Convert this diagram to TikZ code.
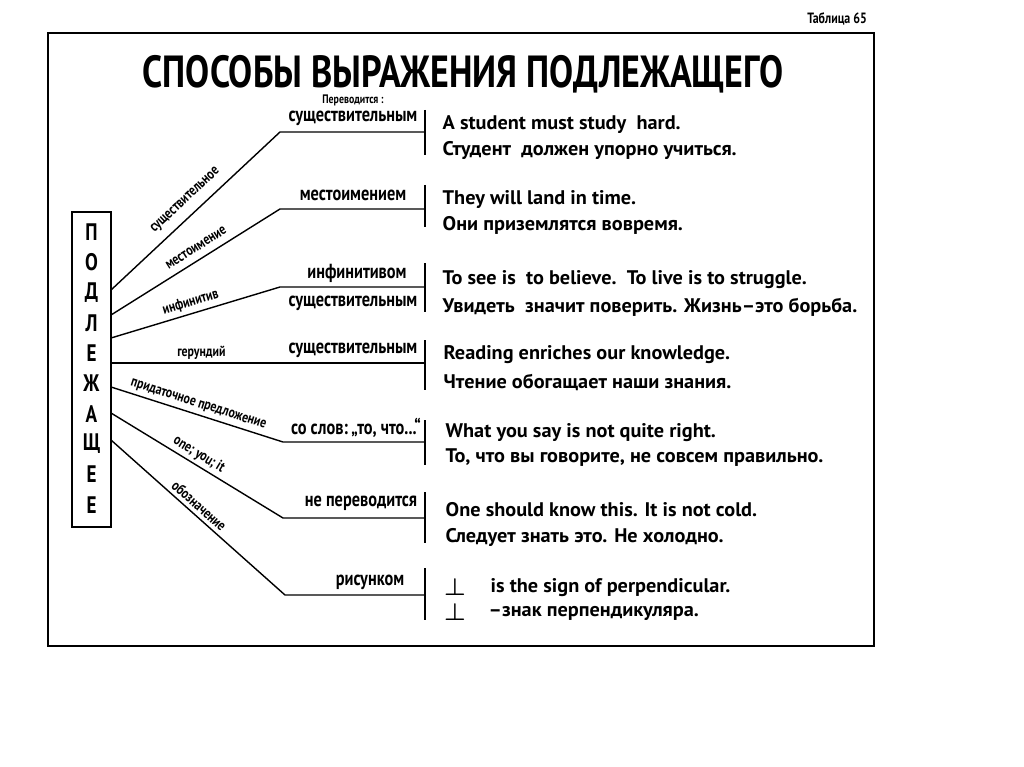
\documentclass[tikz,border=0pt]{standalone}
\usepackage{fontspec}
\setmainfont{PT Sans}[FakeStretch=0.8]
\newfontfamily\sentfont{PT Sans}[FakeStretch=1.03]
\usetikzlibrary{positioning}

\begin{document}
\begin{tikzpicture}[x=0.025cm, y=-0.025cm, line width=1pt,
    lbl/.style={font=\bfseries\fontsize{14.5}{16}\selectfont, inner sep=0pt},
    way/.style={font=\bfseries\fontsize{10.5}{11}\selectfont, sloped, above, inner xsep=0pt},
    sent/.style={font=\sentfont\bfseries\fontsize{14}{16}\selectfont, anchor=west, inner sep=0pt},
    bar/.style={line width=1.5pt}]

	\useasboundingbox (0,0) rectangle (1024,767);

	% frame and title
	\draw[line width=1.4pt] (48,33) rectangle (874,646);
	\node[font=\bfseries\fontsize{10.6}{12}\selectfont, anchor=south east, inner sep=1pt] (tab) at (869,27) {Таблица 65};
	\node[font=\bfseries\fontsize{32}{34}\selectfont] (title) at (463,74) {СПОСОБЫ ВЫРАЖЕНИЯ ПОДЛЕЖАЩЕГО};

	% subject box
	\node[draw, line width=1.4pt, minimum width=0.975cm, minimum height=7.875cm, inner sep=0pt] (subj) at (91.5,369.5) {};
	\foreach \l [count=\k] in {П,О,Д,Л,Е,Ж,А,Щ,Е,Е}{
		\node[font=\bfseries\fontsize{17}{17}\selectfont] (let\k) at (91.5,{232+30.3*(\k-1)}) {\l};
	}

	% branches
	\foreach \i/\sy/\bx/\by/\bt/\bb/\w/\p/\d in {
		1/290/280/132/110/155/существительное/0.5/6pt,
		2/315/280/209/185/227/местоимение/0.54/5pt,
		3/338/280/287/263/312/инфинитив/0.49/2.5pt,
		4/363/280/363/340/390/герундий/0.535/2pt,
		5/387/283/442/420/465/придаточное предложение/0.49/2.5pt,
		6/413/283/518/492/543/one; you; it/0.48/2pt,
		7/440/285/595/568/620/обозначение/0.47/2.5pt}{
		\coordinate (s\i) at (111,\sy);
		\coordinate (b\i) at (\bx,\by);
		\coordinate (e\i) at (425,\by);
		\coordinate (t\i) at (425,\bt);
		\coordinate (u\i) at (425,\bb);
		\draw (s\i) -- node[way, pos=\p, inner ysep=\d] (w\i) {\w} (b\i) -- (e\i);
		\draw[bar] (t\i) -- (u\i);
	}

	% how it is translated
	\node[font=\bfseries\fontsize{8.75}{10}\selectfont] (tr) at (353,100) {Переводится :};
	\node[lbl] (r1) at (353,118) {существительным};
	\node[lbl] (r2) at (353,195) {местоимением};
	\node[lbl] (r3) at (357,273) {инфинитивом};
	\node[lbl] (r3b) at (353,303) {существительным};
	\node[lbl] (r4) at (353,350) {существительным};
	\node[lbl] (r5) at (356,428) {со слов:\,„то, что...“};
	\node[lbl] (r6) at (361,503) {не переводится};
	\node[lbl] (r7) at (370,582) {рисунком};

	% examples
	\node[sent] (x1a) at (442,125) {A student must study\ \ hard.};
	\node[sent] (x1b) at (442,150) {Студент\ \ должен упорно учиться.};
	\node[sent] (x2a) at (442,200) {They will land in time.};
	\node[sent] (x2b) at (442,225) {Они приземлятся вовремя.};
	\node[sent] (x3a) at (442,280) {To see is\ \ to believe.\ \ To live is to struggle.};
	\node[sent] (x3b) at (442,307) {Увидеть\ \ значит поверить. Жизнь–это борьба.};
	\node[sent] (x4a) at (443,355) {Reading enriches our knowledge.};
	\node[sent] (x4b) at (443,382) {Чтение обогащает наши знания.};
	\node[sent] (x5a) at (445,433) {What you say is not quite right.};
	\node[sent] (x5b) at (445,458) {То, что вы говорите, не совсем правильно.};
	\node[sent] (x6a) at (445,510) {One should know this. It is not cold.};
	\node[sent] (x6b) at (445,537) {Следует знать это. Не холодно.};
	\node[font=\fontsize{16}{16}\selectfont\boldmath, inner sep=0pt] (p7a) at (455,587) {$\perp$};
	\node[sent] (x7a) at (490,588) {is the sign of perpendicular.};
	\node[font=\fontsize{16}{16}\selectfont\boldmath, inner sep=0pt] (p7b) at (455,612) {$\perp$};
	\node[sent] (x7b) at (488,613) {–знак перпендикуляра.};

\end{tikzpicture}
\end{document}
